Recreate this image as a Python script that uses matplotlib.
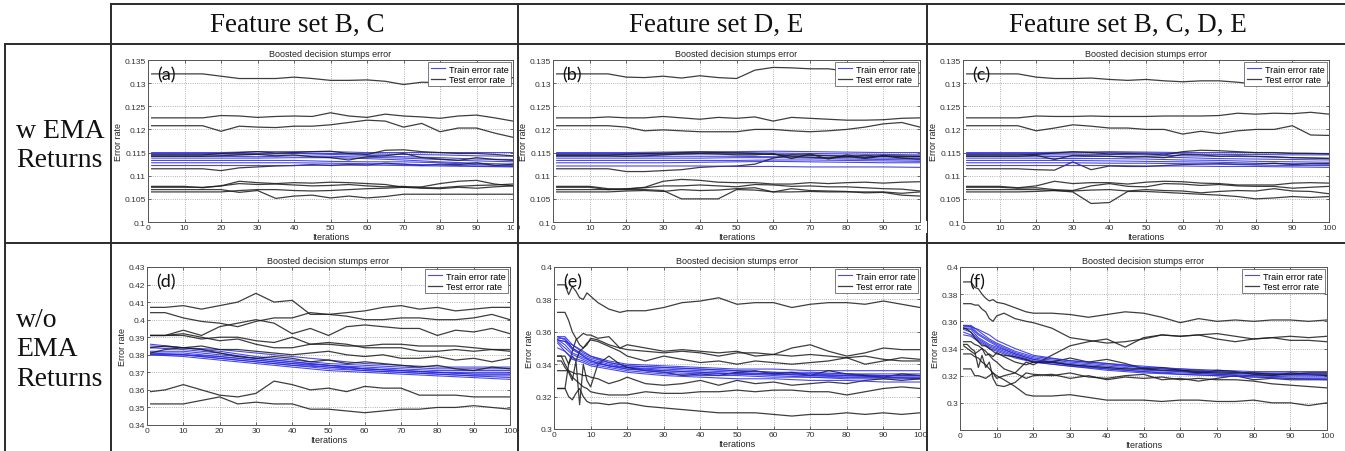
import matplotlib
matplotlib.use("Agg")
import matplotlib.pyplot as plt
from matplotlib.lines import Line2D
from matplotlib.patches import Rectangle
from matplotlib.ticker import FuncFormatter

plt.rcParams['font.family'] = ['Liberation Sans', 'DejaVu Sans']

W, H = 1345, 452

# ---- data ----
COL_TITLES = ["Feature set B, C", "Feature set D, E", "Feature set B, C, D, E"]
ROW_TITLES = ["w EMA\nReturns", "w/o\nEMA\nReturns"]
PANEL_TAGS = ["(a)", "(b)", "(c)", "(d)", "(e)", "(f)"]

X_TOP = [1, 5, 10, 15, 20, 25, 30, 35, 40, 45, 50, 55, 60, 65, 70, 75, 80, 85, 90, 95, 100]
X_TOP_TRAIN = [1, 10, 20, 30, 40, 50, 60, 70, 80, 90, 100]
X_EF = [1, 2, 3, 4, 5, 6, 7, 8, 9, 10, 12, 15, 18, 20, 25, 30, 35, 40, 45, 50,
        55, 60, 65, 70, 75, 80, 85, 90, 95, 100]
X_EF_TRAIN = [1, 3, 5, 8, 10, 15, 20, 30, 40, 50, 60, 70, 80, 90, 100]

Y_TICKS_TOP = [0.1, 0.105, 0.11, 0.115, 0.12, 0.125, 0.13, 0.135]
Y_TICKS_D = [0.34, 0.35, 0.36, 0.37, 0.38, 0.39, 0.4, 0.41, 0.42, 0.43]
Y_TICKS_E = [0.3, 0.32, 0.34, 0.36, 0.38, 0.4]
Y_TICKS_F = [0.3, 0.32, 0.34, 0.36, 0.38, 0.4]
X_TICKS = [0, 10, 20, 30, 40, 50, 60, 70, 80, 90, 100]

A_TEST = [
    [0.132, 0.132, 0.132, 0.132, 0.1315, 0.131, 0.131, 0.131, 0.1313, 0.131, 0.1306, 0.1306, 0.1307, 0.1304, 0.1297, 0.1302, 0.1301, 0.1301, 0.1303, 0.1302, 0.1312],
    [0.1225, 0.1225, 0.1225, 0.1225, 0.123, 0.1229, 0.1226, 0.1228, 0.1229, 0.1228, 0.1236, 0.1229, 0.1226, 0.1233, 0.1229, 0.1227, 0.1224, 0.1229, 0.1231, 0.1225, 0.1218],
    [0.1208, 0.1208, 0.1208, 0.1208, 0.1196, 0.1207, 0.1205, 0.1204, 0.1207, 0.1207, 0.121, 0.1215, 0.122, 0.1218, 0.1205, 0.1213, 0.1195, 0.1203, 0.1203, 0.1192, 0.1183],
    [0.1145, 0.1145, 0.1145, 0.1145, 0.1148, 0.115, 0.1152, 0.1149, 0.115, 0.1152, 0.1153, 0.1148, 0.1146, 0.1155, 0.1156, 0.1152, 0.115, 0.1148, 0.1148, 0.1146, 0.1143],
    [0.1142, 0.1142, 0.1142, 0.1142, 0.1143, 0.1145, 0.1146, 0.1143, 0.1145, 0.1141, 0.1139, 0.1134, 0.1141, 0.1143, 0.1148, 0.1139, 0.1136, 0.1133, 0.1139, 0.1135, 0.1133],
    [0.1115, 0.1115, 0.1115, 0.1115, 0.1111, 0.1117, 0.1119, 0.1121, 0.1122, 0.1124, 0.1122, 0.1124, 0.1123, 0.1127, 0.1125, 0.1122, 0.1125, 0.1124, 0.1128, 0.1122, 0.1125],
    [0.1077, 0.1077, 0.1077, 0.1074, 0.1078, 0.1088, 0.1085, 0.1083, 0.1085, 0.1084, 0.1086, 0.1085, 0.1083, 0.1081, 0.1075, 0.1076, 0.1083, 0.1088, 0.109, 0.1082, 0.1078],
    [0.1075, 0.1075, 0.1075, 0.1075, 0.1078, 0.1083, 0.1081, 0.1082, 0.108, 0.1078, 0.1079, 0.1081, 0.1078, 0.1076, 0.1077, 0.1074, 0.1074, 0.1077, 0.1079, 0.108, 0.1082],
    [0.107, 0.107, 0.107, 0.107, 0.107, 0.1064, 0.1068, 0.1051, 0.1056, 0.1058, 0.1052, 0.1056, 0.1052, 0.1055, 0.106, 0.106, 0.106, 0.106, 0.106, 0.106, 0.106],
    [0.1065, 0.1065, 0.1065, 0.1065, 0.1065, 0.1068, 0.107, 0.107, 0.1068, 0.1067, 0.1068, 0.107, 0.1072, 0.1073, 0.1075, 0.1073, 0.1072, 0.1075, 0.1073, 0.1076, 0.1078],
]
A_TRAIN = [
    [0.115, 0.115, 0.115, 0.1152, 0.1152, 0.1152, 0.115, 0.115, 0.115, 0.115, 0.115],
    [0.1148, 0.1148, 0.1148, 0.1148, 0.1149, 0.1148, 0.1147, 0.1146, 0.1145, 0.1143, 0.1142],
    [0.1145, 0.1145, 0.1145, 0.1146, 0.1148, 0.1146, 0.1144, 0.1141, 0.1139, 0.1136, 0.1135],
    [0.1142, 0.1142, 0.1142, 0.1141, 0.1143, 0.1142, 0.114, 0.1138, 0.1135, 0.1132, 0.113],
    [0.1138, 0.1138, 0.1138, 0.1138, 0.1139, 0.1139, 0.1137, 0.1134, 0.113, 0.1127, 0.1125],
    [0.1133, 0.1133, 0.1133, 0.1133, 0.1133, 0.1131, 0.113, 0.113, 0.1128, 0.1124, 0.1122],
    [0.1128, 0.1128, 0.1128, 0.1128, 0.1128, 0.1127, 0.1126, 0.1125, 0.1123, 0.1121, 0.112],
    [0.1122, 0.1122, 0.1122, 0.1122, 0.1122, 0.1123, 0.1123, 0.1122, 0.1121, 0.112, 0.1119],
]

B_TEST = [
    [0.132, 0.132, 0.132, 0.132, 0.1313, 0.1312, 0.1315, 0.1311, 0.1316, 0.1312, 0.131, 0.1328, 0.1334, 0.1333, 0.1331, 0.1331, 0.1326, 0.1326, 0.1325, 0.1325, 0.1322],
    [0.1225, 0.1225, 0.1225, 0.1227, 0.1225, 0.1225, 0.1228, 0.1225, 0.1222, 0.1226, 0.1224, 0.1227, 0.1218, 0.1226, 0.1224, 0.1222, 0.122, 0.122, 0.1221, 0.1224, 0.1225],
    [0.1208, 0.1208, 0.1208, 0.1208, 0.1205, 0.1197, 0.1199, 0.1197, 0.1195, 0.1195, 0.1195, 0.12, 0.12, 0.1197, 0.1195, 0.1197, 0.12, 0.1205, 0.1212, 0.1215, 0.1205],
    [0.1145, 0.1145, 0.1145, 0.1145, 0.1146, 0.1148, 0.1149, 0.115, 0.1151, 0.115, 0.1149, 0.1148, 0.1146, 0.1142, 0.114, 0.1138, 0.1142, 0.1137, 0.1143, 0.1138, 0.1135],
    [0.1143, 0.1143, 0.1143, 0.1143, 0.1142, 0.1143, 0.1145, 0.1147, 0.1148, 0.1147, 0.1145, 0.1145, 0.1148, 0.1137, 0.1147, 0.1136, 0.1145, 0.1139, 0.1144, 0.1141, 0.1142],
    [0.1115, 0.1115, 0.1115, 0.1115, 0.1109, 0.1109, 0.1111, 0.1113, 0.1118, 0.112, 0.1121, 0.1125, 0.1138, 0.1145, 0.1144, 0.1143, 0.1141, 0.1144, 0.1142, 0.1143, 0.1142],
    [0.1077, 0.1077, 0.1077, 0.1072, 0.1071, 0.1075, 0.1088, 0.1092, 0.109, 0.1086, 0.1085, 0.1085, 0.1082, 0.1082, 0.1085, 0.1083, 0.1085, 0.1086, 0.1084, 0.1086, 0.1087],
    [0.1075, 0.1075, 0.1075, 0.107, 0.1072, 0.1074, 0.1078, 0.1078, 0.108, 0.1078, 0.1076, 0.1081, 0.108, 0.1077, 0.1078, 0.1076, 0.1076, 0.1074, 0.1072, 0.1071, 0.1067],
    [0.107, 0.107, 0.107, 0.107, 0.107, 0.107, 0.1068, 0.105, 0.105, 0.105, 0.107, 0.1069, 0.1065, 0.1065, 0.1066, 0.1065, 0.1065, 0.1065, 0.1065, 0.1062, 0.1065],
    [0.1065, 0.1065, 0.1065, 0.1065, 0.1067, 0.1068, 0.1066, 0.107, 0.1068, 0.1069, 0.1072, 0.1074, 0.1065, 0.1072, 0.1068, 0.1067, 0.1066, 0.1063, 0.1064, 0.1058, 0.1056],
]
B_TRAIN = [
    [0.115, 0.115, 0.115, 0.1151, 0.1152, 0.1152, 0.1153, 0.1152, 0.1151, 0.115, 0.115],
    [0.1148, 0.1148, 0.1148, 0.1148, 0.1149, 0.115, 0.1149, 0.1148, 0.1147, 0.1146, 0.1145],
    [0.1145, 0.1145, 0.1145, 0.1146, 0.1147, 0.1147, 0.1146, 0.1145, 0.1143, 0.1141, 0.114],
    [0.1142, 0.1142, 0.1142, 0.1142, 0.1142, 0.1142, 0.1141, 0.114, 0.1139, 0.1138, 0.1137],
    [0.1138, 0.1138, 0.1138, 0.1138, 0.1138, 0.1139, 0.1139, 0.1138, 0.1136, 0.1135, 0.1134],
    [0.1133, 0.1133, 0.1133, 0.1133, 0.1133, 0.1133, 0.1134, 0.1134, 0.1133, 0.1132, 0.1131],
    [0.1128, 0.1128, 0.1128, 0.1128, 0.1129, 0.113, 0.1131, 0.113, 0.1129, 0.1128, 0.1128],
    [0.1121, 0.1121, 0.1121, 0.1121, 0.1121, 0.112, 0.112, 0.1119, 0.1119, 0.1119, 0.1118],
]

C_TEST = [
    [0.132, 0.132, 0.132, 0.132, 0.1313, 0.131, 0.131, 0.1311, 0.1308, 0.1306, 0.1308, 0.1305, 0.1303, 0.1305, 0.1305, 0.1302, 0.1298, 0.1301, 0.13, 0.1302, 0.1302],
    [0.1225, 0.1225, 0.1225, 0.1225, 0.1229, 0.1228, 0.1228, 0.1229, 0.1228, 0.1228, 0.1228, 0.1229, 0.1229, 0.1229, 0.123, 0.1235, 0.1233, 0.1235, 0.1234, 0.1237, 0.1233],
    [0.1208, 0.1208, 0.1208, 0.1208, 0.1197, 0.1203, 0.121, 0.1207, 0.1203, 0.1203, 0.12, 0.12, 0.119, 0.1196, 0.1191, 0.1197, 0.12, 0.12, 0.1208, 0.1188, 0.1187],
    [0.1145, 0.1145, 0.1145, 0.1145, 0.1146, 0.1149, 0.1152, 0.115, 0.1147, 0.1148, 0.1147, 0.1145, 0.1152, 0.1155, 0.1154, 0.1152, 0.115, 0.115, 0.1148, 0.1148, 0.1147],
    [0.1142, 0.1142, 0.1142, 0.1142, 0.1144, 0.1135, 0.1144, 0.1143, 0.1142, 0.114, 0.1141, 0.1139, 0.1146, 0.1145, 0.1142, 0.1143, 0.1142, 0.1141, 0.1139, 0.1138, 0.1137],
    [0.1115, 0.1115, 0.1115, 0.1115, 0.1113, 0.1112, 0.113, 0.1113, 0.1121, 0.112, 0.112, 0.1122, 0.1124, 0.1125, 0.1126, 0.1125, 0.1125, 0.1127, 0.1124, 0.1126, 0.1126],
    [0.1077, 0.1077, 0.1077, 0.1074, 0.1078, 0.1088, 0.1083, 0.1085, 0.1085, 0.1082, 0.1086, 0.1088, 0.1087, 0.1084, 0.1083, 0.108, 0.108, 0.108, 0.1084, 0.1085, 0.1084],
    [0.1075, 0.1075, 0.1075, 0.1073, 0.1074, 0.107, 0.1068, 0.1078, 0.1083, 0.1077, 0.1076, 0.1083, 0.1082, 0.1079, 0.1081, 0.1078, 0.1077, 0.1077, 0.1073, 0.1075, 0.1077],
    [0.107, 0.107, 0.107, 0.107, 0.107, 0.1068, 0.1065, 0.104, 0.1042, 0.1066, 0.1066, 0.1064, 0.1062, 0.106, 0.1058, 0.1055, 0.105, 0.1052, 0.1055, 0.1053, 0.1055],
    [0.1065, 0.1065, 0.1065, 0.1065, 0.1066, 0.1068, 0.1067, 0.1069, 0.107, 0.1067, 0.107, 0.1068, 0.1067, 0.1063, 0.1066, 0.1068, 0.1067, 0.1072, 0.1067, 0.1066, 0.1061],
]
C_TRAIN = [
    [0.115, 0.115, 0.115, 0.1151, 0.1152, 0.1151, 0.115, 0.115, 0.115, 0.1149, 0.1148],
    [0.1148, 0.1148, 0.1148, 0.1149, 0.115, 0.1149, 0.1147, 0.1146, 0.1146, 0.1145, 0.1145],
    [0.1145, 0.1145, 0.1145, 0.1145, 0.1146, 0.1145, 0.1143, 0.1142, 0.1141, 0.1139, 0.1138],
    [0.1142, 0.1142, 0.1142, 0.1141, 0.1142, 0.1141, 0.1139, 0.1137, 0.1136, 0.1135, 0.1134],
    [0.1138, 0.1138, 0.1138, 0.1137, 0.1137, 0.1136, 0.1134, 0.1133, 0.1131, 0.113, 0.1129],
    [0.1133, 0.1133, 0.1133, 0.1133, 0.1132, 0.1131, 0.113, 0.1129, 0.1127, 0.1126, 0.1125],
    [0.1128, 0.1128, 0.1128, 0.1128, 0.1127, 0.1127, 0.1126, 0.1125, 0.1123, 0.1122, 0.1122],
    [0.1122, 0.1122, 0.1122, 0.1122, 0.1122, 0.1121, 0.1121, 0.112, 0.112, 0.1119, 0.1118],
]

D_TEST = [
    [0.407, 0.407, 0.408, 0.406, 0.408, 0.41, 0.415, 0.41, 0.411, 0.403, 0.403, 0.404, 0.405, 0.407, 0.408, 0.406, 0.407, 0.405, 0.406, 0.407, 0.407],
    [0.404, 0.404, 0.401, 0.399, 0.398, 0.396, 0.399, 0.401, 0.401, 0.404, 0.403, 0.402, 0.4, 0.4, 0.401, 0.401, 0.4, 0.4, 0.401, 0.403, 0.4],
    [0.391, 0.391, 0.394, 0.391, 0.396, 0.398, 0.4, 0.398, 0.392, 0.395, 0.391, 0.396, 0.397, 0.396, 0.395, 0.395, 0.391, 0.394, 0.393, 0.395, 0.392],
    [0.391, 0.391, 0.391, 0.389, 0.39, 0.39, 0.388, 0.387, 0.39, 0.386, 0.386, 0.385, 0.385, 0.386, 0.386, 0.385, 0.385, 0.385, 0.384, 0.383, 0.382],
    [0.391, 0.391, 0.392, 0.39, 0.388, 0.389, 0.386, 0.384, 0.384, 0.386, 0.387, 0.386, 0.384, 0.384, 0.384, 0.382, 0.382, 0.383, 0.382, 0.383, 0.383],
    [0.384, 0.385, 0.384, 0.385, 0.383, 0.383, 0.382, 0.381, 0.38, 0.381, 0.382, 0.38, 0.379, 0.38, 0.378, 0.378, 0.379, 0.377, 0.378, 0.376, 0.378],
    [0.381, 0.383, 0.384, 0.383, 0.381, 0.379, 0.378, 0.379, 0.378, 0.376, 0.377, 0.375, 0.376, 0.375, 0.374, 0.373, 0.374, 0.372, 0.371, 0.373, 0.372],
    [0.359, 0.36, 0.363, 0.36, 0.357, 0.356, 0.358, 0.365, 0.363, 0.36, 0.361, 0.359, 0.362, 0.361, 0.361, 0.357, 0.357, 0.357, 0.356, 0.356, 0.356],
    [0.352, 0.352, 0.352, 0.354, 0.356, 0.352, 0.353, 0.352, 0.352, 0.349, 0.349, 0.348, 0.347, 0.348, 0.349, 0.349, 0.35, 0.35, 0.351, 0.35, 0.349],
]
D_TRAIN = [
    [0.386, 0.384, 0.383, 0.381, 0.379, 0.377, 0.375, 0.374, 0.373, 0.373, 0.373],
    [0.385, 0.384, 0.382, 0.379, 0.377, 0.375, 0.374, 0.373, 0.372, 0.372, 0.372],
    [0.384, 0.383, 0.381, 0.378, 0.376, 0.374, 0.373, 0.372, 0.371, 0.371, 0.371],
    [0.382, 0.382, 0.38, 0.378, 0.376, 0.374, 0.372, 0.371, 0.37, 0.37, 0.37],
    [0.381, 0.381, 0.379, 0.377, 0.375, 0.373, 0.372, 0.371, 0.37, 0.369, 0.369],
    [0.381, 0.38, 0.378, 0.376, 0.374, 0.373, 0.371, 0.37, 0.369, 0.368, 0.368],
    [0.38, 0.38, 0.378, 0.376, 0.374, 0.372, 0.371, 0.37, 0.369, 0.368, 0.367],
    [0.38, 0.379, 0.377, 0.375, 0.373, 0.371, 0.37, 0.369, 0.368, 0.367, 0.366],
    [0.38, 0.38, 0.379, 0.377, 0.375, 0.374, 0.372, 0.371, 0.37, 0.369, 0.369],
]

E_TEST = [
    [0.389, 0.389, 0.389, 0.383, 0.388, 0.385, 0.381, 0.38, 0.384, 0.382, 0.378, 0.374, 0.372, 0.373, 0.373, 0.375, 0.378, 0.379, 0.381, 0.377, 0.378, 0.378, 0.375, 0.377, 0.378, 0.378, 0.377, 0.379, 0.377, 0.375],
    [0.372, 0.372, 0.372, 0.367, 0.36, 0.356, 0.352, 0.35, 0.352, 0.356, 0.355, 0.352, 0.35, 0.349, 0.348, 0.347, 0.348, 0.347, 0.345, 0.347, 0.347, 0.346, 0.345, 0.346, 0.345, 0.344, 0.345, 0.343, 0.342, 0.342],
    [0.345, 0.345, 0.345, 0.34, 0.348, 0.355, 0.357, 0.359, 0.358, 0.358, 0.356, 0.357, 0.35, 0.352, 0.35, 0.348, 0.349, 0.348, 0.347, 0.348, 0.345, 0.346, 0.35, 0.352, 0.348, 0.345, 0.347, 0.35, 0.349, 0.349],
    [0.342, 0.342, 0.338, 0.335, 0.33, 0.342, 0.315, 0.34, 0.33, 0.326, 0.34, 0.345, 0.34, 0.338, 0.336, 0.335, 0.333, 0.334, 0.333, 0.335, 0.336, 0.334, 0.335, 0.333, 0.336, 0.334, 0.333, 0.332, 0.334, 0.333],
    [0.325, 0.325, 0.325, 0.34, 0.345, 0.342, 0.348, 0.35, 0.353, 0.355, 0.354, 0.351, 0.348, 0.345, 0.342, 0.345, 0.343, 0.341, 0.342, 0.34, 0.342, 0.341, 0.34, 0.341, 0.342, 0.344, 0.34, 0.342, 0.344, 0.343],
    [0.336, 0.336, 0.336, 0.336, 0.335, 0.334, 0.334, 0.333, 0.333, 0.332, 0.331, 0.328, 0.33, 0.332, 0.328, 0.327, 0.328, 0.33, 0.327, 0.33, 0.328, 0.329, 0.327, 0.328, 0.329, 0.328, 0.33, 0.331, 0.33, 0.331],
    [0.345, 0.345, 0.34, 0.336, 0.332, 0.33, 0.328, 0.326, 0.325, 0.323, 0.322, 0.321, 0.321, 0.321, 0.323, 0.322, 0.322, 0.323, 0.323, 0.324, 0.323, 0.324, 0.324, 0.323, 0.323, 0.321, 0.323, 0.325, 0.326, 0.325],
    [0.325, 0.325, 0.325, 0.32, 0.318, 0.322, 0.325, 0.32, 0.317, 0.316, 0.316, 0.315, 0.316, 0.316, 0.314, 0.313, 0.312, 0.311, 0.31, 0.31, 0.31, 0.309, 0.308, 0.309, 0.309, 0.31, 0.309, 0.31, 0.309, 0.31],
]
E_TRAIN = [
    [0.357, 0.357, 0.352, 0.347, 0.345, 0.342, 0.34, 0.339, 0.338, 0.337, 0.337, 0.336, 0.336, 0.336, 0.336],
    [0.356, 0.356, 0.35, 0.346, 0.344, 0.341, 0.339, 0.338, 0.337, 0.336, 0.335, 0.335, 0.334, 0.334, 0.334],
    [0.355, 0.354, 0.349, 0.345, 0.343, 0.34, 0.338, 0.337, 0.336, 0.335, 0.334, 0.334, 0.333, 0.333, 0.333],
    [0.355, 0.352, 0.347, 0.344, 0.342, 0.339, 0.338, 0.336, 0.335, 0.334, 0.334, 0.333, 0.333, 0.332, 0.332],
    [0.354, 0.35, 0.346, 0.343, 0.341, 0.339, 0.337, 0.335, 0.334, 0.334, 0.333, 0.332, 0.332, 0.332, 0.331],
    [0.353, 0.348, 0.344, 0.342, 0.34, 0.338, 0.336, 0.334, 0.333, 0.333, 0.332, 0.332, 0.331, 0.331, 0.331],
    [0.35, 0.348, 0.343, 0.341, 0.339, 0.337, 0.335, 0.333, 0.332, 0.331, 0.331, 0.33, 0.33, 0.329, 0.329],
    [0.355, 0.354, 0.352, 0.348, 0.345, 0.341, 0.339, 0.338, 0.337, 0.336, 0.335, 0.334, 0.334, 0.333, 0.333],
    [0.357, 0.355, 0.35, 0.345, 0.342, 0.339, 0.337, 0.336, 0.335, 0.334, 0.334, 0.333, 0.332, 0.332, 0.332],
]

F_TEST = [
    [0.389, 0.389, 0.389, 0.385, 0.384, 0.38, 0.377, 0.375, 0.376, 0.374, 0.373, 0.37, 0.367, 0.366, 0.366, 0.365, 0.363, 0.365, 0.367, 0.366, 0.363, 0.359, 0.362, 0.36, 0.361, 0.36, 0.361, 0.361, 0.36, 0.361],
    [0.373, 0.373, 0.373, 0.372, 0.372, 0.369, 0.367, 0.362, 0.36, 0.364, 0.366, 0.362, 0.36, 0.359, 0.355, 0.348, 0.346, 0.344, 0.345, 0.347, 0.35, 0.349, 0.35, 0.347, 0.345, 0.347, 0.348, 0.346, 0.346, 0.345],
    [0.345, 0.345, 0.345, 0.343, 0.342, 0.34, 0.338, 0.335, 0.332, 0.33, 0.325, 0.322, 0.33, 0.328, 0.335, 0.342, 0.345, 0.347, 0.341, 0.348, 0.35, 0.349, 0.35, 0.351, 0.349, 0.347, 0.348, 0.349, 0.348, 0.349],
    [0.343, 0.343, 0.34, 0.338, 0.326, 0.335, 0.326, 0.33, 0.318, 0.313, 0.312, 0.315, 0.322, 0.321, 0.32, 0.322, 0.319, 0.318, 0.32, 0.321, 0.317, 0.318, 0.316, 0.318, 0.32, 0.317, 0.318, 0.317, 0.317, 0.317],
    [0.336, 0.336, 0.336, 0.334, 0.333, 0.33, 0.328, 0.325, 0.322, 0.32, 0.317, 0.312, 0.306, 0.305, 0.305, 0.306, 0.304, 0.302, 0.302, 0.302, 0.301, 0.302, 0.302, 0.301, 0.301, 0.302, 0.3, 0.3, 0.298, 0.3],
    [0.325, 0.325, 0.325, 0.32, 0.32, 0.319, 0.318, 0.32, 0.322, 0.318, 0.32, 0.322, 0.318, 0.32, 0.321, 0.318, 0.32, 0.317, 0.319, 0.318, 0.319, 0.317, 0.318, 0.317, 0.317, 0.316, 0.314, 0.313, 0.312, 0.311],
    [0.342, 0.34, 0.338, 0.336, 0.338, 0.34, 0.335, 0.336, 0.334, 0.337, 0.334, 0.33, 0.328, 0.33, 0.33, 0.333, 0.33, 0.332, 0.329, 0.325, 0.326, 0.324, 0.322, 0.324, 0.323, 0.321, 0.32, 0.322, 0.321, 0.32],
    [0.355, 0.354, 0.352, 0.348, 0.345, 0.342, 0.342, 0.34, 0.338, 0.336, 0.335, 0.334, 0.332, 0.33, 0.33, 0.328, 0.327, 0.326, 0.325, 0.325, 0.324, 0.324, 0.323, 0.322, 0.322, 0.322, 0.321, 0.321, 0.322, 0.322],
]
F_TRAIN = [
    [0.357, 0.357, 0.353, 0.347, 0.344, 0.338, 0.334, 0.331, 0.329, 0.327, 0.325, 0.324, 0.323, 0.323, 0.323],
    [0.356, 0.356, 0.351, 0.346, 0.343, 0.337, 0.333, 0.33, 0.328, 0.326, 0.324, 0.323, 0.322, 0.322, 0.322],
    [0.355, 0.355, 0.35, 0.345, 0.342, 0.336, 0.332, 0.329, 0.327, 0.325, 0.323, 0.322, 0.321, 0.321, 0.321],
    [0.355, 0.354, 0.348, 0.343, 0.341, 0.336, 0.332, 0.328, 0.326, 0.324, 0.323, 0.321, 0.32, 0.32, 0.32],
    [0.354, 0.352, 0.347, 0.342, 0.34, 0.335, 0.331, 0.328, 0.325, 0.323, 0.322, 0.321, 0.32, 0.319, 0.319],
    [0.352, 0.35, 0.346, 0.341, 0.339, 0.334, 0.33, 0.327, 0.325, 0.323, 0.321, 0.32, 0.319, 0.318, 0.318],
    [0.35, 0.349, 0.345, 0.34, 0.338, 0.333, 0.33, 0.327, 0.324, 0.322, 0.321, 0.32, 0.319, 0.318, 0.317],
    [0.357, 0.356, 0.354, 0.35, 0.346, 0.34, 0.335, 0.331, 0.329, 0.326, 0.325, 0.323, 0.322, 0.321, 0.321],
]

BLUE = "#2a2ae0"
BLACK = "#1c1c1c"


def px_rect(l, t, r, b):
    return [l / W, 1 - b / H, (r - l) / W, (b - t) / H]


def fig_line(fig, x0, y0, x1, y1):
    fig.add_artist(Line2D([x0 / W, x1 / W], [1 - y0 / H, 1 - y1 / H],
                          transform=fig.transFigure, color="#2b2b2b", lw=1.4))


def panel(fig, box, x_test, tests, x_train, trains, ylim, yticks, tag):
    ax = fig.add_axes(px_rect(*box))
    n = max(len(tests), len(trains))
    for i in range(n):
        if i < len(trains):
            ax.plot(x_train, trains[i], color=BLUE, lw=0.8, alpha=0.85,
                    label="Train error rate" if i == 0 else None)
        if i < len(tests):
            ax.plot(x_test, tests[i], color=BLACK, lw=0.9, alpha=0.85,
                    label="Test error rate" if i == 0 else None)
    ax.set_xlim(0, 100)
    ax.set_ylim(*ylim)
    ax.set_xticks(X_TICKS)
    ax.set_yticks(yticks)
    ax.yaxis.set_major_formatter(FuncFormatter(lambda v, p: "%g" % v))
    ax.grid(True, linestyle=":", color="#9a9a9a", lw=0.6)
    ax.tick_params(direction="in", length=2.5, width=0.5, labelsize=6,
                   pad=1.5, top=True, right=True, colors="#333333")
    for s in ax.spines.values():
        s.set_color("#555555")
        s.set_linewidth(0.7)
    ax.set_title("Boosted decision stumps error", fontsize=6.5, pad=3, color="#222222")
    ax.set_xlabel("Iterations", fontsize=6.5, labelpad=0.5, color="#222222")
    ax.set_ylabel("Error rate", fontsize=6.5, labelpad=1, color="#222222")
    leg = ax.legend(loc="upper right", fontsize=6.5, handlelength=1.6,
                    handletextpad=0.4, labelspacing=0.15, borderpad=0.25,
                    borderaxespad=0.25, fancybox=False, framealpha=1)
    leg.get_frame().set_edgecolor("#666666")
    leg.get_frame().set_linewidth(0.6)
    ax.text(0.025, 0.91, tag, transform=ax.transAxes, fontsize=13,
            family=["Lato", "DejaVu Sans"], va="center", ha="left", color="#111111")
    return ax


fig = plt.figure(figsize=(W / 100, H / 100), dpi=100)
fig.patch.set_facecolor("white")

panel(fig, (148, 61, 513, 223), X_TOP, A_TEST, X_TOP_TRAIN, A_TRAIN,
      (0.1, 0.135), Y_TICKS_TOP, PANEL_TAGS[0])
panel(fig, (553, 61, 920, 223), X_TOP, B_TEST, X_TOP_TRAIN, B_TRAIN,
      (0.1, 0.135), Y_TICKS_TOP, PANEL_TAGS[1])
panel(fig, (963, 61, 1329, 223), X_TOP, C_TEST, X_TOP_TRAIN, C_TRAIN,
      (0.1, 0.135), Y_TICKS_TOP, PANEL_TAGS[2])
panel(fig, (147, 268, 510, 426), X_TOP, D_TEST, X_TOP_TRAIN, D_TRAIN,
      (0.34, 0.43), Y_TICKS_D, PANEL_TAGS[3])
panel(fig, (554, 268, 920, 430), X_EF, E_TEST, X_EF_TRAIN, E_TRAIN,
      (0.3, 0.4), Y_TICKS_E, PANEL_TAGS[4])
panel(fig, (960, 268, 1327, 431), X_EF, F_TEST, X_EF_TRAIN, F_TRAIN,
      (0.28, 0.4), Y_TICKS_F, PANEL_TAGS[5])

# screenshots in the table were cropped at the right edge
for (l, t, r, b) in [(514, 222, 517, 234), (921, 222, 927, 234)]:
    fig.add_artist(Rectangle((l / W, 1 - b / H), (r - l) / W, (b - t) / H,
                             transform=fig.transFigure, facecolor="white",
                             edgecolor="none", zorder=5))

# table grid
fig_line(fig, 111, 5, W, 5)
fig_line(fig, 5, 44.5, W, 44.5)
fig_line(fig, 5, 244, W, 244)
fig_line(fig, 5, 44.5, 5, H)
fig_line(fig, 111, 5, 111, H)
fig_line(fig, 517.5, 5, 517.5, H)
fig_line(fig, 927, 5, 927, H)

serif = ["Liberation Serif", "DejaVu Serif"]
for xc, title in zip([297, 716, 1128], COL_TITLES):
    fig.text(xc / W, 1 - 25 / H, title, ha="center", va="center",
             fontsize=19.5, family=serif, color="#111111")
for yc, label in zip([146, 350], ROW_TITLES):
    fig.text(16 / W, 1 - yc / H, label, ha="left", va="center",
             fontsize=20, family=serif, color="#111111", linespacing=1.25)

fig.savefig("out.png", dpi=100)
